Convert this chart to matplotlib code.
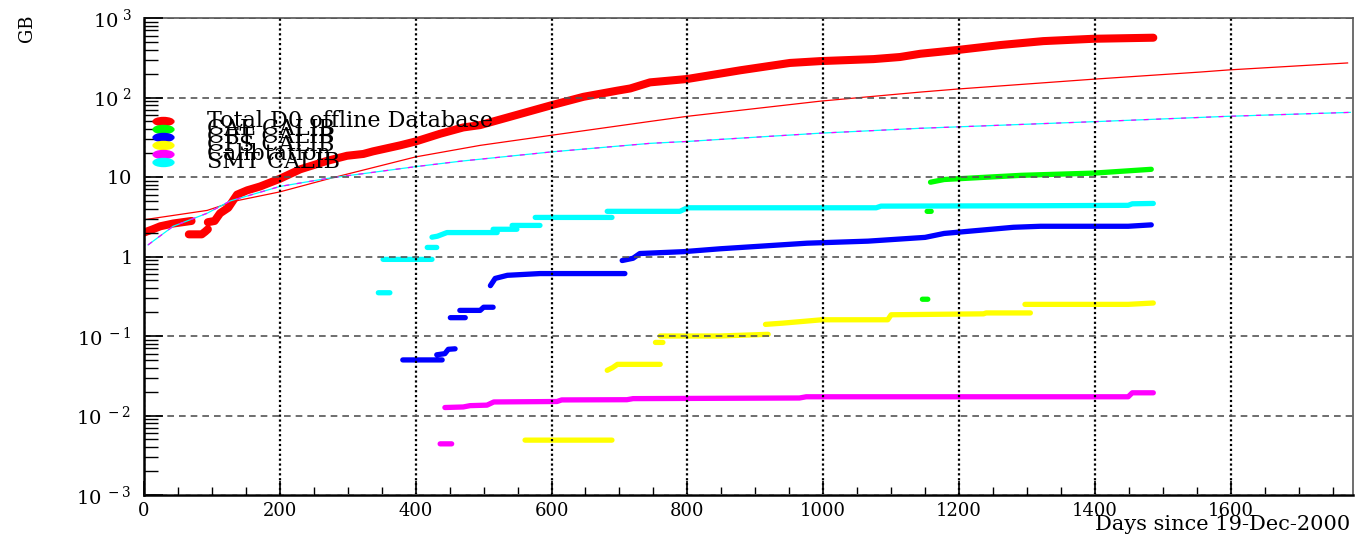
import numpy as np
import matplotlib
matplotlib.use("Agg")
import matplotlib.pyplot as plt
from matplotlib.ticker import MultipleLocator, FixedLocator, FixedFormatter, LogLocator, NullFormatter
from matplotlib.path import Path
from matplotlib.transforms import Affine2D

nan = np.nan

# Total D0 offline Database (days since 19-Dec-2000, GB)
total_days = [0, 13, 24, 43, 70, nan,
              66, 85, 90, 94, nan,
              94, 104, 112, 124, 137, 152, 171, 190, 200, 230, 270, 299, 323, 337,
              377, 400, 436, 470, 495, 535, 600, 647, 697, 716, 745, 800, 878, 951,
              996, 1074, 1113, 1143, 1199, 1261, 1324, 1398, 1486]
total_gb = [2.0, 2.2, 2.4, 2.6, 2.8, nan,
            1.9, 1.9, 2.05, 2.2, nan,
            2.7, 2.8, 3.5, 4.1, 6.0, 6.8, 7.6, 8.8, 9.5, 12.5, 16.0, 18.5, 19.5, 21.0,
            25.0, 28.0, 35.0, 42.0, 45.0, 56.0, 80.0, 102.0, 122.0, 130.0, 155.0, 171.0, 220.0, 272.0,
            287.0, 304.0, 323.0, 355.0, 397.0, 457.0, 512.0, 548.0, 565.0]

# CAL CALIB
cal_days = [1146, 1154, nan, 1153, 1159, nan, 1158, 1178, 1292, 1399, 1483]
cal_gb = [0.29, 0.29, nan, 3.7, 3.7, nan, 8.6, 9.3, 10.5, 11.2, 12.5]

# CFT CALIB
cft_days = [381, 439, nan,
            431, 443, 448, 458, nan,
            451, 473, nan,
            465, 495, 500, 514, nan,
            510, 517, 535, 583, 708, nan,
            704, 720, 730, 794, 848, 976, 1066, 1150, 1178, 1280, 1320, 1449, 1483]
cft_gb = [0.050, 0.050, nan,
          0.058, 0.060, 0.068, 0.069, nan,
          0.17, 0.17, nan,
          0.21, 0.21, 0.23, 0.23, nan,
          0.43, 0.53, 0.58, 0.61, 0.61, nan,
          0.89, 0.95, 1.09, 1.15, 1.25, 1.47, 1.56, 1.74, 1.95, 2.33, 2.4, 2.4, 2.5]

# CPS CALIB
cps_days = [561, 689, nan,
            682, 690, 697, 760, nan,
            753, 764, nan,
            760, 848, 919, nan,
            915, 940, 998, 1095, 1100, 1236, 1240, 1305, nan,
            1297, 1449, 1486]
cps_gb = [0.0049, 0.0049, nan,
          0.037, 0.040, 0.044, 0.044, nan,
          0.083, 0.083, nan,
          0.10, 0.10, 0.105, nan,
          0.14, 0.145, 0.16, 0.16, 0.185, 0.19, 0.195, 0.195, nan,
          0.25, 0.25, 0.26]

# Calibtation
calib_days = [436, 453, nan,
              443, 470, 480, 505, 515, 608, 615, 711, 720, 965, 975, 1449, 1455, 1486]
calib_gb = [0.0044, 0.0044, nan,
            0.0126, 0.0128, 0.0133, 0.0135, 0.0148, 0.0150, 0.0157, 0.0158, 0.0163, 0.0166,
            0.0172, 0.0172, 0.0193, 0.0193]

# SMT CALIB
smt_days = [345, 362, nan,
            352, 424, nan,
            417, 431, nan,
            424, 432, 446, 520, nan,
            514, 549, nan,
            542, 583, nan,
            576, 689, nan,
            682, 789, 800, 1078, 1085, 1320, 1449, 1455, 1486]
smt_gb = [0.35, 0.35, nan,
          0.92, 0.92, nan,
          1.3, 1.3, nan,
          1.75, 1.8, 2.0, 2.0, nan,
          2.2, 2.2, nan,
          2.46, 2.46, nan,
          3.1, 3.1, nan,
          3.7, 3.7, 4.1, 4.1, 4.3, 4.35, 4.4, 4.6, 4.65]

# fitted curves
fit_total_days = [0, 93, 135, 200, 274, 400, 495, 600, 745, 800, 996, 1143, 1199, 1398, 1555, 1596, 1772]
fit_total_gb = [2.9, 3.8, 5.0, 6.5, 9.6, 17.9, 25.0, 33.5, 50.0, 58.0, 90.0, 117.0, 128.0, 170.0, 209.0, 222.0, 272.0]
fit_sub_days = [6, 43, 93, 127, 200, 270, 400, 466, 600, 745, 800, 996, 1143, 1408, 1596, 1776]
fit_sub_gb = [1.4, 2.4, 3.5, 5.0, 7.6, 9.6, 13.5, 15.8, 20.7, 26.5, 28.0, 35.6, 41.0, 50.0, 58.0, 65.0]

labels = ["Total D0 offline Database", "CAL CALIB", "CFT CALIB", "CPS CALIB", "Calibtation", "SMT CALIB"]
colors = ["#ff0000", "#00ff00", "#0000ff", "#ffff00", "#ff00ff", "#00ffff"]

plt.rcParams['font.family'] = ['DejaVu Serif']
plt.rcParams['mathtext.fontset'] = 'dejavuserif'

fig = plt.figure(figsize=(13.56, 5.36), dpi=100)
ax = fig.add_axes([144 / 1356, 1 - 495 / 536, 1209 / 1356, 477 / 536])
ax.set_yscale('log')
ax.set_xlim(0, 1780)
ax.set_ylim(1e-3, 1e3)

lw_kw = dict(solid_capstyle='round', solid_joinstyle='round')
ax.plot(total_days, total_gb, color=colors[0], lw=5.8, **lw_kw)
ax.plot(cal_days, cal_gb, color=colors[1], lw=3.8, **lw_kw)
ax.plot(cft_days, cft_gb, color=colors[2], lw=3.8, **lw_kw)
ax.plot(cps_days, cps_gb, color=colors[3], lw=3.8, **lw_kw)
ax.plot(calib_days, calib_gb, color=colors[4], lw=3.8, **lw_kw)
ax.plot(smt_days, smt_gb, color=colors[5], lw=3.8, **lw_kw)

ax.plot(fit_total_days, fit_total_gb, color='#ff0000', lw=0.9)
ax.plot(fit_sub_days, fit_sub_gb, color='#00ffff', lw=0.9)
ax.plot(fit_sub_days, fit_sub_gb, color='#ff00ff', lw=0.9, ls=(0, (4, 6)))

# axes styling
ax.xaxis.set_major_locator(MultipleLocator(200))
ax.xaxis.set_minor_locator(MultipleLocator(50))
ax.yaxis.set_major_locator(FixedLocator([1e-3, 1e-2, 1e-1, 1, 10, 1e2, 1e3]))
ax.yaxis.set_major_formatter(FixedFormatter([r'10$^{\ -3}$', r'10$^{\ -2}$', r'10$^{\ -1}$',
                                             r'1$\quad$', r'10$\quad$', r'10$^{\ 2}$', r'10$^{\ 3}$']))
ax.yaxis.set_minor_locator(LogLocator(base=10, subs=np.arange(2, 10)))
ax.yaxis.set_minor_formatter(NullFormatter())

ax.tick_params(axis='x', which='major', direction='in', length=10, width=1.2, labelsize=13, pad=5)
ax.tick_params(axis='x', which='minor', direction='in', length=6, width=1.0)
ax.tick_params(axis='y', which='major', direction='in', length=14, width=1.2, labelsize=14, pad=9)
ax.tick_params(axis='y', which='minor', direction='in', length=10, width=1.0)
ax.tick_params(top=False, right=False, which='both')

ax.grid(True, axis='x', which='major', color='black', linestyle=(0, (1, 1.2)), lw=1.6)
ax.grid(True, axis='y', which='major', color='#555555', linestyle=(0, (4, 3)), lw=1.2)
ax.set_axisbelow(False)

for side in ['left', 'bottom']:
    ax.spines[side].set_linewidth(1.8)
    ax.spines[side].set_color('black')
for side in ['top', 'right']:
    ax.spines[side].set_linewidth(1.2)
    ax.spines[side].set_color('#555555')

# legend drawn by hand: oval markers with tightly packed serif labels
oval = Affine2D().scale(2.6, 1.0).transform_path(Path.unit_circle())
row_y = [121, 129, 137, 145, 153.5, 162]
for lab, col, yp in zip(labels, colors, row_y):
    yf = (495 - yp) / 477
    ax.plot([(163 - 144) / 1209], [yf], transform=ax.transAxes, marker=oval, ms=15,
            color=col, ls='none', clip_on=False, zorder=5)
    ax.text((207 - 144) / 1209, yf, lab, transform=ax.transAxes, fontsize=16,
            ha='left', va='center', color='black', zorder=6)

fig.text(1350 / 1356, 1 - 525 / 536, 'Days since 19-Dec-2000', ha='right', va='center', fontsize=15)
fig.text(27 / 1356, 1 - 28 / 536, 'GB', rotation=90, ha='center', va='center', fontsize=13)

fig.savefig('out.png', dpi=100)
